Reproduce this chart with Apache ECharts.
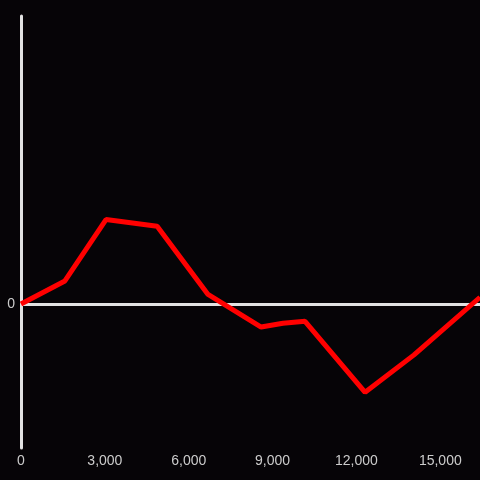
<!DOCTYPE html>
<html>
<head>
<meta charset="utf-8">
<script src="https://cdn.jsdelivr.net/npm/echarts@6/dist/echarts.min.js"></script>
<style>
  html, body { margin: 0; padding: 0; background: #060407; }
  #chart { width: 480px; height: 480px; }
</style>
</head>
<body>
<div id="chart"></div>
<script>
// x positions and values
const xValues = [0, 1570, 3040, 4870, 6690, 8590, 9370, 10160, 12310, 14060, 16420]
const yValues = [0, 24, 88, 81, 10, -24, -20, -18, -92, -53, 7]
const xTicks = [0, 3000, 6000, 9000, 12000, 15000]

const chart = echarts.init(document.getElementById('chart'))

const option = {
	backgroundColor: '#060407',
	animation: false,
	grid: {
		left: 21,
		right: 0,
		top: 16,
		bottom: 32,
		containLabel: false,
	},
	xAxis: {
		type: 'value',
		min: 0,
		max: 16420,
		interval: 3000,
		axisLine: { show: false },
		axisTick: { show: false },
		splitLine: { show: false },
		axisLabel: {
			color: '#cccccc',
			fontSize: 14,
			fontFamily: 'Liberation Sans',
			margin: 6,
			showMaxLabel: false,
			formatter: function (v) {
				return xTicks.indexOf(v) >= 0 ? v.toLocaleString('en-US') : ''
			},
		},
	},
	yAxis: {
		type: 'value',
		min: -150,
		max: 300,
		interval: 150,
		axisLine: {
			show: true,
			onZero: false,
			lineStyle: { color: '#e2e2e2', width: 3 },
		},
		axisTick: { show: false },
		splitLine: { show: false },
		axisLabel: {
			color: '#cccccc',
			fontSize: 14,
			fontFamily: 'Liberation Sans',
			margin: 6,
			formatter: function (v) {
				return v === 0 ? '0' : ''
			},
		},
	},
	series: [
		{
			type: 'line',
			data: xValues.map((x, i) => [x, yValues[i]]),
			symbol: 'none',
			z: 3,
			lineStyle: { color: '#ff0000', width: 5 },
			markLine: {
				silent: true,
				symbol: 'none',
				label: { show: false },
				z: 2,
				lineStyle: { color: '#e2e2e2', width: 3, type: 'solid' },
				data: [{ yAxis: 0 }],
			},
		},
	],
}

chart.setOption(option)
</script>
</body>
</html>
